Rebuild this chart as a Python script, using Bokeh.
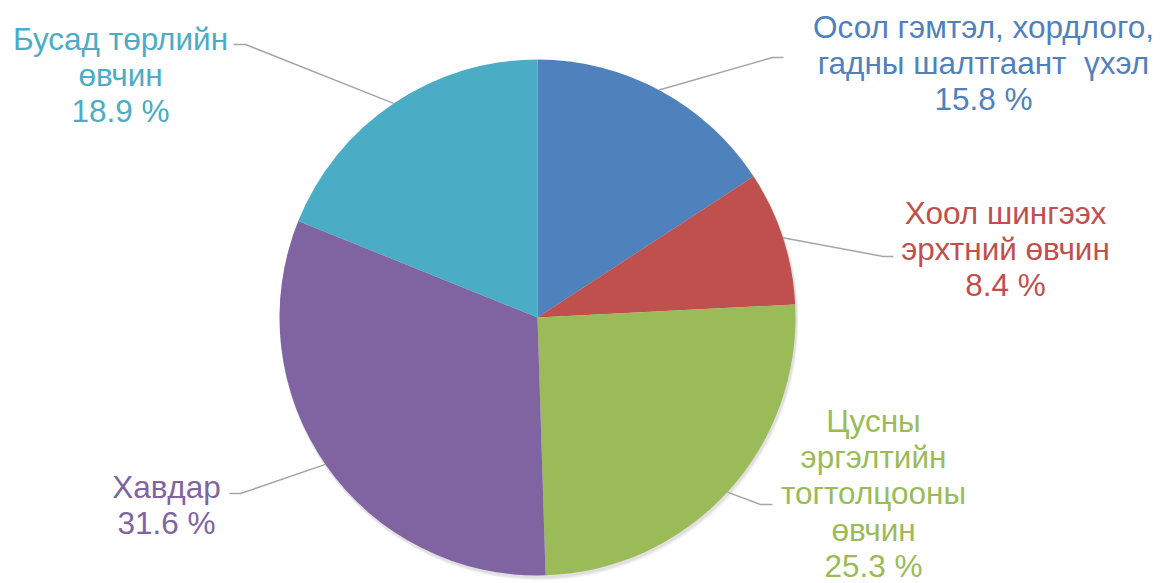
import math
from bokeh.plotting import figure
from bokeh.models import Range1d
from bokeh.core.properties import value
from bokeh.embed import file_html
from bokeh.resources import INLINE

# ---- data ----
categories = [
    "Осол гэмтэл, хордлого,\nгадны шалтгаант\u00a0 үхэл",
    "Хоол шингээх\nэрхтний өвчин",
    "Цусны\nэргэлтийн\nтогтолцооны\nөвчин",
    "Хавдар",
    "Бусад төрлийн\nөвчин",
]
shares = [15.8, 8.4, 25.3, 31.6, 18.9]
colors = ["#4F81BD", "#C0504D", "#9BBB59", "#8064A2", "#4BACC6"]

# ---- layout (pixel coordinates of the reference picture) ----
W, H = 1165, 583
OFF_X, OFF_Y = 0, 583  # picture px -> data units
center_px = (537, 317)
radius = 258
label_centers_px = [(983, 26), (1005, 212), (873, 420), (166, 486), (120, 38)]
line_step = 36.4
leader_angles = [28.1, 72.0, 132.6, 235.3, 326.1]   # degrees clockwise from top
leader_elbows_px = [(772, 57), (883, 256), (760, 504), (240, 493), (245, 44)]
leader_ends_px = [(783, 57), (893, 256), (772, 504), (229, 493), (233, 44)]
FONT = "Liberation Sans"
FONT_SIZE = "31.5px"


def to_data(pt):
    return pt[0] - OFF_X, OFF_Y - pt[1]


p = figure(width=W, height=H, output_backend="svg", toolbar_location=None,
           x_range=Range1d(0, W), y_range=Range1d(0, H), min_border=0)
p.axis.visible = False
p.grid.visible = False
p.outline_line_color = None
p.background_fill_color = "white"

cx, cy = to_data(center_px)

# soft shadow
for k, a in [(4, 0.03), (3, 0.04), (2, 0.05)]:
    p.circle(x=[cx + k * 0.5], y=[cy - k], radius=radius + 1, fill_color="black",
             fill_alpha=a, line_color=None)

total = sum(shares)
starts, ends = [], []
cum = 0.0
for v in shares:
    starts.append(math.pi / 2 - 2 * math.pi * cum / total)
    cum += v
    ends.append(math.pi / 2 - 2 * math.pi * cum / total)

p.wedge(x=[cx] * len(shares), y=[cy] * len(shares), radius=radius,
        start_angle=starts, end_angle=ends, direction="clock",
        fill_color=colors, line_color=None)

# leader lines
for ang, elb, end in zip(leader_angles, leader_elbows_px, leader_ends_px):
    t = math.radians(ang)
    sx = cx + radius * math.sin(t)
    sy = cy + radius * math.cos(t)
    ex, ey = to_data(elb)
    fx, fy = to_data(end)
    p.line(x=[sx, ex, fx], y=[sy, ey, fy], line_color="#A6A6A6", line_width=1.5)

# labels
for cat, v, col, lc in zip(categories, shares, colors, label_centers_px):
    lines = cat.split("\n") + [f"{v:.1f} %"]
    lx, ly = to_data(lc)
    ys = [ly - i * line_step for i in range(len(lines))]
    p.text(x=[lx] * len(lines), y=ys, text=lines, text_color=col,
           text_font=value(FONT), text_font_size=FONT_SIZE,
           text_align="center", text_baseline="middle")

open("out.html", "w").write(file_html(p, INLINE))
